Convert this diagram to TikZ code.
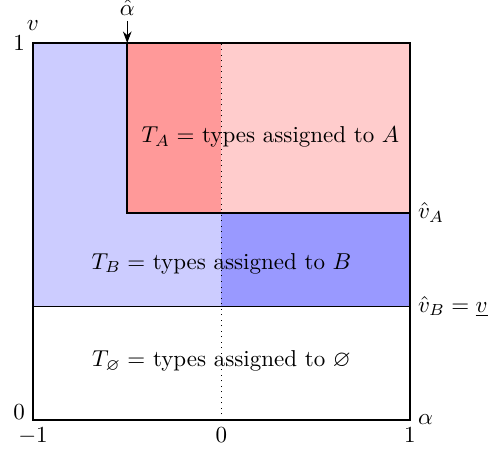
\documentclass[tikz,border=0pt]{standalone}
\usepackage{amssymb}
\usepackage{tikz}
\usetikzlibrary{arrows.meta, positioning}

\begin{document}
\begin{tikzpicture}[
    x=2.88cm, y=5.76cm,
    axislbl/.style={inner sep=0.3333em},
    region/.style={inner sep=0pt}
]
\useasboundingbox (-1.175,-0.09) rectangle (1.43,1.114);

% Regions
\fill[blue!20] (-1,0.3) rectangle (0,1);
\fill[blue!40] (0,0.3) rectangle (1,0.55);
\fill[red!40] (-0.5,0.55) rectangle (0,1);
\fill[red!20] (0,0.55) rectangle (1,1);
\draw[thick] (-0.5,1) -- (-0.5,0.55) -- (1,0.55);
\draw (-1,0.3) -- (1,0.3);

% Region labels
\node[region] (TA) at (0.26,0.75) {$T_A =$ types assigned to $A$};
\node[region] (TB) at (0,0.415) {$T_B =$ types assigned to $B$};
\node[region] (T0) at (0,0.155) {$T_\varnothing =$ types assigned to $\varnothing$};

\draw[dotted] (0,0) -- (0,1);
\draw[very thick] (-1,0) rectangle (1,1);

% Axis labels
\node[axislbl, left] (y1) at (-1,1) {$1$};
\node[axislbl, left] (y0) at (-1,0.02) {$0$};
\node[axislbl] (v) at (-1,1.045) {$v$};
\node[axislbl, below] (xm1) at (-1,0) {$-1$};
\node[axislbl, below] (x0) at (0,0) {$0$};
\node[axislbl, below] (x1) at (1,0) {$1$};
\node[axislbl, right] (alpha) at (1,0) {$\alpha$};
\node[axislbl, right] (vA) at (1,0.55) {$\hat v_A$};
\node[axislbl, right] (vB) at (1,0.3) {$\hat v_B = \underline{v}$};

% Threshold arrow
\coordinate (top) at (-0.5,1);
\node[axislbl, inner sep=2pt] (ahat) at (-0.5,1.093) {$\hat\alpha$};
\draw[-{Stealth[length=5pt]}] (ahat) -- (top);

\end{tikzpicture}
\end{document}
